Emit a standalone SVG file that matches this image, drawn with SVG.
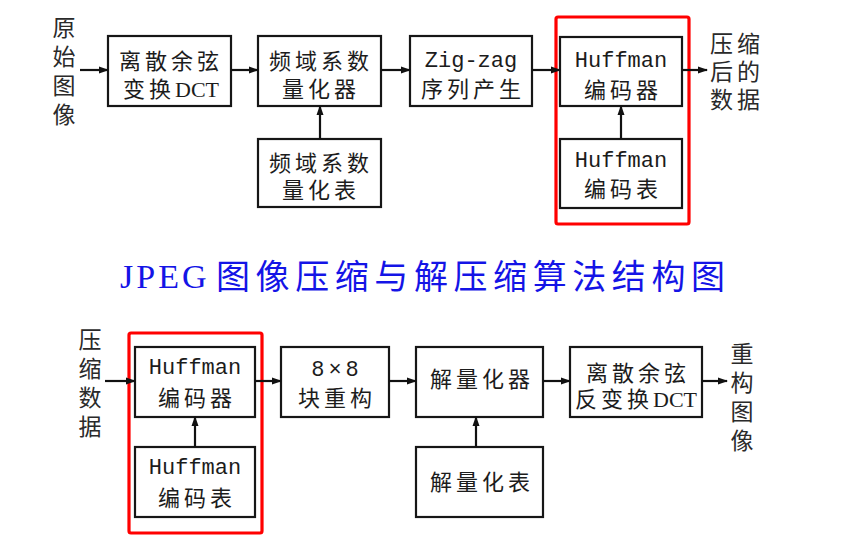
<svg xmlns="http://www.w3.org/2000/svg" width="858" height="558" viewBox="0 0 858 558">
<defs>
<marker id="ah" markerWidth="10" markerHeight="8" refX="9" refY="4" orient="auto" markerUnits="userSpaceOnUse">
<path d="M0,0.5 L10,4 L0,7.5 Z" fill="#111"/>
</marker>
<style>
.box{fill:#fff;stroke:#161616;stroke-width:2.2}
.red{fill:none;stroke:#ff0000;stroke-width:3.2}
.cn{font-family:"Liberation Serif","Noto Sans CJK SC",serif;font-size:22px;fill:#1c1c1c;letter-spacing:4px;text-anchor:middle}
.mono{font-family:"Liberation Mono","Noto Sans CJK SC",monospace;font-size:22px;fill:#1c1c1c;text-anchor:middle}
.lbl{font-family:"Noto Sans CJK SC",sans-serif;font-size:23px;fill:#2a2a2a}
.vert{writing-mode:vertical-rl;letter-spacing:6px}
.row{letter-spacing:4px}
.conn line{stroke:#111;stroke-width:2.2;marker-end:url(#ah)}
.title{font-family:"Liberation Serif","Noto Sans CJK SC",serif;font-size:34px;fill:#1414e6}
</style>
</defs>
<rect width="858" height="558" fill="#fff"/>

<!-- Top row -->
<g id="in-top">
<text class="lbl vert" x="64" y="16">原始图像</text>
</g>
<g id="dct">
<rect class="box" x="108" y="36" width="123" height="70"/>
<text class="cn" x="171" y="69">离散余弦</text>
<text class="cn" x="171" y="97">变换<tspan letter-spacing="0">DCT</tspan></text>
</g>
<g id="quant">
<rect class="box" x="258" y="36" width="123" height="70"/>
<text class="cn" x="321" y="69">频域系数</text>
<text class="cn" x="321" y="97">量化器</text>
</g>
<g id="qtable">
<rect class="box" x="258" y="139" width="123" height="68"/>
<text class="cn" x="321" y="171">频域系数</text>
<text class="cn" x="321" y="198">量化表</text>
</g>
<g id="zigzag">
<rect class="box" x="410" y="36" width="122" height="70"/>
<text class="mono" x="471" y="67">Zig-zag</text>
<text class="cn" x="473" y="97">序列产生</text>
</g>
<g id="huff-enc">
<rect class="red" x="556" y="17" width="133" height="207" rx="2"/>
<rect class="box" x="560" y="37" width="122" height="69"/>
<text class="mono" x="621" y="67">Huffman</text>
<text class="cn" x="623" y="98">编码器</text>
</g>
<g id="huff-etable">
<rect class="box" x="560" y="139" width="122" height="69"/>
<text class="mono" x="621" y="167">Huffman</text>
<text class="cn" x="623" y="197">编码表</text>
</g>
<g id="out-top">
<text class="lbl row"><tspan x="710" y="52">压缩</tspan><tspan x="710" y="80">后的</tspan><tspan x="710" y="108">数据</tspan></text>
</g>

<!-- Title -->
<g id="title">
<text class="title" x="120" y="288" font-size="38" letter-spacing="3">JPEG</text>
<text class="title" x="216" y="289" textLength="509" lengthAdjust="spacing">图像压缩与解压缩算法结构图</text>
</g>

<!-- Bottom row -->
<g id="in-bot">
<text class="lbl vert" x="90" y="328">压缩数据</text>
</g>
<g id="huff-dec">
<rect class="red" x="129" y="333" width="133" height="200" rx="2"/>
<rect class="box" x="135" y="347" width="120" height="70"/>
<text class="mono" x="195" y="374">Huffman</text>
<text class="cn" x="197" y="406">编码器</text>
</g>
<g id="huff-dtable">
<rect class="box" x="135" y="447" width="120" height="70"/>
<text class="mono" x="195" y="474">Huffman</text>
<text class="cn" x="197" y="506">编码表</text>
</g>
<g id="block">
<rect class="box" x="281" y="347" width="108" height="70"/>
<text class="mono" x="337" y="376" font-size="24" letter-spacing="4">8×8</text>
<text class="cn" x="337" y="406">块重构</text>
</g>
<g id="dequant">
<rect class="box" x="416" y="347" width="127" height="70"/>
<text class="cn" x="482" y="387">解量化器</text>
</g>
<g id="dqtable">
<rect class="box" x="416" y="447" width="127" height="70"/>
<text class="cn" x="482" y="490">解量化表</text>
</g>
<g id="idct">
<rect class="box" x="570" y="347" width="132" height="70"/>
<text class="cn" x="638" y="381">离散余弦</text>
<text class="cn" x="636" y="407">反变换<tspan letter-spacing="0">DCT</tspan></text>
</g>
<g id="out-bot">
<text class="lbl vert" x="742" y="342">重构图像</text>
</g>

<!-- Connectors -->
<g id="connectors" class="conn">
<line x1="80" y1="70" x2="108" y2="70"/>
<line x1="231" y1="70" x2="258" y2="70"/>
<line x1="381" y1="70" x2="410" y2="70"/>
<line x1="532" y1="70" x2="560" y2="70"/>
<line x1="682" y1="70" x2="707" y2="70"/>
<line x1="320" y1="139" x2="320" y2="106"/>
<line x1="621" y1="139" x2="621" y2="106"/>
<line x1="105" y1="381" x2="135" y2="381"/>
<line x1="255" y1="381" x2="281" y2="381"/>
<line x1="389" y1="381" x2="416" y2="381"/>
<line x1="543" y1="381" x2="570" y2="381"/>
<line x1="702" y1="381" x2="727" y2="381"/>
<line x1="195" y1="447" x2="195" y2="417"/>
<line x1="476" y1="447" x2="476" y2="417"/>
</g>
</svg>
